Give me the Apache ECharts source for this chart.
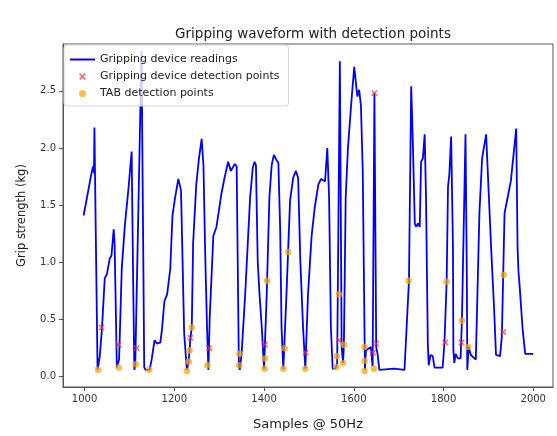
<!DOCTYPE html>
<html>
<head>
<meta charset="utf-8">
<script src="https://cdn.jsdelivr.net/npm/echarts@6/dist/echarts.min.js"></script>
<style>
  html, body { margin: 0; padding: 0; background: #fff; }
  #chart { width: 557px; height: 436px; }
</style>
</head>
<body>
<div id="chart"></div>
<script>
// Sample index of each grip reading (50 Hz)
const sampleIdx = [
  998, 1007, 1015, 1019, 1021, 1022, 1029, 1034, 1039, 1045, 1050, 1056, 1060, 1065, 1067, 1072,
  1077, 1083, 1090, 1098, 1105, 1108, 1111, 1113, 1127, 1133, 1136, 1145, 1150, 1156, 1161, 1169,
  1173, 1178, 1184, 1191, 1196, 1202, 1209, 1215, 1222, 1228, 1232, 1234, 1236, 1239, 1242, 1249,
  1255, 1261, 1265, 1269, 1273, 1276, 1279, 1287, 1294, 1305, 1312, 1320, 1326, 1335, 1339, 1344,
  1346, 1350, 1358, 1369, 1375, 1379, 1382, 1386, 1390, 1395, 1400, 1406, 1412, 1417, 1422, 1427,
  1432, 1436, 1439, 1443, 1450, 1458, 1465, 1471, 1476, 1481, 1487, 1492, 1498, 1506, 1513, 1521,
  1527, 1536, 1541, 1545, 1549, 1553, 1558, 1561, 1563, 1569, 1573, 1576, 1578, 1582, 1587, 1595,
  1601, 1608, 1612, 1616, 1620, 1624, 1625, 1627, 1638, 1642, 1646, 1650, 1653, 1657, 1661, 1690,
  1713, 1723, 1728, 1732, 1736, 1739, 1743, 1747, 1750, 1754, 1758, 1761, 1765, 1767, 1771, 1776,
  1780, 1787, 1798, 1802, 1807, 1810, 1813, 1817, 1821, 1822, 1824, 1827, 1832, 1838, 1841, 1849,
  1852, 1853, 1856, 1861, 1872, 1880, 1886, 1895, 1898, 1906, 1913, 1917, 1926, 1930, 1936, 1943,
  1950, 1962, 1965, 1967, 1969, 1976, 1982, 2000
];

// Grip strength readings (kg)
const gripReadings = [
  1.41, 1.60, 1.77, 1.84, 1.78, 2.18, 0.06, 0.18, 0.43, 0.86, 0.90, 1.03, 1.06, 1.29, 1.17, 0.08,
  0.15, 0.95, 1.33, 1.65, 1.97, 0.95, 0.06, 0.10, 2.85, 0.08, 0.06, 0.06, 0.16, 0.32, 0.29, 0.30,
  0.43, 0.66, 0.72, 0.94, 1.41, 1.57, 1.73, 1.63, 0.38, 0.06, 0.13, 0.23, 0.34, 0.43, 1.17, 1.68,
  1.91, 2.08, 1.85, 1.06, 0.43, 0.06, 0.52, 1.23, 1.31, 1.60, 1.74, 1.88, 1.80, 1.86, 1.84, 0.09,
  0.06, 0.20, 0.72, 1.57, 1.83, 1.88, 1.85, 1.00, 0.72, 0.43, 0.07, 0.72, 1.57, 1.85, 1.94, 1.90,
  1.87, 1.29, 0.43, 0.07, 0.72, 1.54, 1.74, 1.80, 1.74, 1.00, 0.43, 0.07, 0.72, 1.23, 1.48, 1.68,
  1.73, 1.71, 2.00, 1.57, 0.43, 0.07, 0.07, 0.09, 0.12, 2.76, 0.26, 0.12, 0.28, 1.57, 2.00, 2.42,
  2.71, 2.45, 2.51, 2.37, 1.80, 0.38, 0.06, 0.23, 0.26, 0.09, 2.48, 0.26, 0.20, 0.06, 0.07, 0.07,
  0.06, 0.84, 2.54, 2.00, 1.34, 1.31, 1.34, 1.31, 1.88, 1.91, 2.12, 1.57, 0.29, 0.10, 0.19, 0.18,
  0.08, 0.08, 0.08, 0.29, 0.83, 1.66, 1.77, 2.10, 1.14, 0.23, 0.12, 0.20, 0.16, 0.16, 0.49, 2.12,
  0.86, 0.06, 0.26, 0.19, 0.15, 1.43, 1.91, 2.12, 1.85, 1.14, 0.57, 0.19, 0.18, 0.35, 1.43, 1.57,
  1.71, 2.17, 1.14, 0.92, 0.83, 0.43, 0.20, 0.20
];

// Points flagged by the gripping device
const deviceDetX = [1038, 1076, 1116, 1236, 1278, 1402, 1493, 1567, 1643, 1646, 1650, 1804, 1840, 1933];
const deviceDetY = [0.43, 0.28, 0.25, 0.34, 0.25, 0.28, 0.21, 0.32, 0.21, 2.48, 0.29, 0.30, 0.30, 0.39];

// Points flagged by TAB
const tabDetX = [1030, 1076, 1114, 1144, 1228, 1232, 1234, 1239, 1274, 1345, 1345, 1401, 1402, 1407,
  1443, 1446, 1454, 1492, 1561, 1562, 1567, 1576, 1578, 1624, 1624, 1624, 1645, 1722, 1807, 1841,
  1855, 1934];
const tabDetY = [0.06, 0.08, 0.11, 0.06, 0.05, 0.13, 0.23, 0.43, 0.10, 0.10, 0.20, 0.07, 0.16, 0.84,
  0.07, 0.25, 1.09, 0.07, 0.085, 0.18, 0.72, 0.12, 0.28, 0.05, 0.14, 0.26, 0.07, 0.84, 0.83, 0.49,
  0.26, 0.89];

const xTicks = [1000, 1200, 1400, 1600, 1800, 2000];
const yTicks = [0, 0.5, 1.0, 1.5, 2.0, 2.5];

const zip = (xs, ys) => xs.map((x, i) => [x, ys[i]]);
// Filled "x" marker outline
const crossPath = 'path://M0,1.8 L1.8,0 L5,3.2 L8.2,0 L10,1.8 L6.8,5 L10,8.2 L8.2,10 L5,6.8 L1.8,10 L0,8.2 L3.2,5 Z';
const lineIcon = 'path://M0,0 L25,0 L25,2 L0,2 Z';
const FONT = 'DejaVu Sans';

const chart = echarts.init(document.getElementById('chart'), null, { renderer: 'canvas' });
chart.setOption({
  animation: false,
  backgroundColor: '#ffffff',
  textStyle: { fontFamily: FONT },
  title: {
    text: 'Gripping waveform with detection points',
    left: 308, top: 22, textAlign: 'center',
    textStyle: { fontFamily: FONT, fontSize: 13.5, fontWeight: 'normal', color: '#222' }
  },
  legend: {
    orient: 'vertical',
    left: 64, top: 45,
    padding: [9, 9, 7, 6],
    itemWidth: 25, itemHeight: 7, itemGap: 6,
    backgroundColor: 'rgba(255,255,255,0.8)',
    borderColor: '#d4d4d4', borderWidth: 1, borderRadius: 3,
    textStyle: { fontFamily: FONT, fontSize: 11, color: '#222' },
    data: [
      { name: 'Gripping device readings', icon: lineIcon },
      { name: 'Gripping device detection points' },
      { name: 'TAB detection points' }
    ]
  },
  grid: {
    left: 63, right: 4, top: 44, bottom: 41,
    show: true, borderColor: '#555', borderWidth: 1, backgroundColor: 'transparent'
  },
  xAxis: {
    type: 'value', min: 952, max: 2044,
    name: 'Samples @ 50Hz', nameLocation: 'middle', nameGap: 31,
    nameTextStyle: { fontFamily: FONT, fontSize: 13, color: '#222' },
    axisLine: { show: true, onZero: false, lineStyle: { color: '#555' } },
    axisTick: { show: true, length: 4, customValues: xTicks, lineStyle: { color: '#555' } },
    axisLabel: {
      customValues: xTicks, margin: 7, fontFamily: FONT, fontSize: 10, color: '#333',
      formatter: v => String(v)
    },
    splitLine: { show: false }
  },
  yAxis: {
    type: 'value', min: -0.09, max: 2.91,
    name: 'Grip strength (kg)', nameLocation: 'middle', nameGap: 35,
    nameTextStyle: { fontFamily: FONT, fontSize: 11.5, color: '#222' },
    axisLine: { show: true, onZero: false, lineStyle: { color: '#555' } },
    axisTick: { show: true, length: 4, customValues: yTicks, lineStyle: { color: '#555' } },
    axisLabel: {
      customValues: yTicks, margin: 7, fontFamily: FONT, fontSize: 10, color: '#333',
      formatter: v => v.toFixed(1)
    },
    splitLine: { show: false }
  },
  series: [
    {
      name: 'Gripping device readings',
      type: 'line',
      data: zip(sampleIdx, gripReadings),
      showSymbol: false, symbol: 'none',
      lineStyle: { color: '#0000ff', width: 1.8 },
      itemStyle: { color: '#0000ff' },
      z: 2
    },
    {
      name: 'Gripping device detection points',
      type: 'scatter',
      data: zip(deviceDetX, deviceDetY),
      symbol: crossPath, symbolSize: 6.5,
      itemStyle: { color: 'rgba(240,50,50,0.88)' },
      z: 3
    },
    {
      name: 'TAB detection points',
      type: 'scatter',
      data: zip(tabDetX, tabDetY),
      symbol: 'circle', symbolSize: 6.5,
      itemStyle: { color: 'rgba(245,165,0,0.92)' },
      z: 4
    }
  ]
});
</script>
</body>
</html>
